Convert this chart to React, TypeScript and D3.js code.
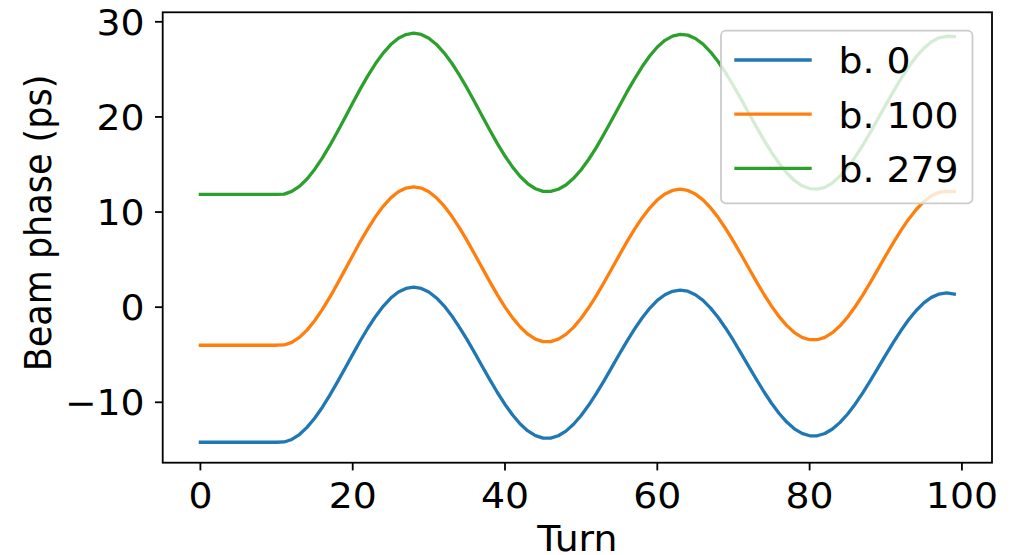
import { useEffect, useRef } from 'react';
import * as d3 from 'd3';

// beam phase per turn (ps), turns 0..99
const turns = d3.range(100);

const bunch0 = [
  -14.2, -14.2, -14.2, -14.2, -14.2, -14.2, -14.2, -14.2, -14.2, -14.2, -14.2,
  -14.17, -13.91, -13.39, -12.64, -11.68, -10.54, -9.25, -7.86, -6.42, -4.96, -3.53, -2.19, -0.97, 0.09, 0.96, 1.59, 1.97,
  2.1,
  1.97, 1.59, 0.97, 0.14, -0.89, -2.09, -3.39, -4.78, -6.21, -7.62, -8.97, -10.23, -11.34, -12.28, -13.01, -13.51, -13.77,
  -13.77, -13.52, -13.03, -12.31, -11.39, -10.29, -9.07, -7.74, -6.35, -4.95, -3.59, -2.31, -1.14, -0.12, 0.71, 1.31, 1.67,
  1.8,
  1.68, 1.31, 0.71, -0.1, -1.09, -2.24, -3.5, -4.85, -6.22, -7.58, -8.89, -10.1, -11.18, -12.08, -12.79, -13.27, -13.52,
  -13.52, -13.28, -12.81, -12.11, -11.23, -10.17, -8.98, -7.7, -6.36, -5.02, -3.7, -2.46, -1.33, -0.35, 0.45, 1.03, 1.38,
  1.5, 1.38,
];

const bunch100 = [
  -4.0, -4.0, -4.0, -4.0, -4.0, -4.0, -4.0, -4.0, -4.0, -4.0, -4.0,
  -3.97, -3.7, -3.18, -2.41, -1.43, -0.26, 1.05, 2.47, 3.95, 5.44, 6.9, 8.26, 9.52, 10.6, 11.49, 12.13, 12.52,
  12.65,
  12.52, 12.13, 11.5, 10.64, 9.58, 8.36, 7.02, 5.59, 4.13, 2.69, 1.3, 0.01, -1.13, -2.09, -2.84, -3.36, -3.62,
  -3.62, -3.36, -2.86, -2.12, -1.17, -0.04, 1.22, 2.59, 4.01, 5.45, 6.86, 8.17, 9.38, 10.42, 11.28, 11.9, 12.27,
  12.4,
  12.27, 11.89, 11.28, 10.44, 9.42, 8.22, 6.92, 5.54, 4.12, 2.71, 1.36, 0.11, -1.0, -1.94, -2.67, -3.17, -3.42,
  -3.42, -3.17, -2.68, -1.96, -1.03, 0.07, 1.3, 2.63, 4.02, 5.43, 6.79, 8.08, 9.25, 10.27, 11.11, 11.71, 12.07,
  12.18, 12.15,
];

const bunch279 = [
  11.86, 11.86, 11.86, 11.86, 11.86, 11.86, 11.86, 11.86, 11.86, 11.86, 11.86,
  11.89, 12.17, 12.7, 13.48, 14.48, 15.67, 17.0, 18.45, 19.95, 21.47, 22.95, 24.34, 25.61, 26.71, 27.61, 28.27, 28.66,
  28.8,
  28.67, 28.27, 27.62, 26.74, 25.67, 24.41, 23.05, 21.59, 20.1, 18.62, 17.2, 15.89, 14.72, 13.74, 12.97, 12.45, 12.18,
  12.18, 12.4, 12.85, 13.55, 14.45, 15.55, 16.8, 18.2, 19.65, 21.13, 22.6, 23.98, 25.27, 26.4, 27.35, 28.05, 28.5,
  28.67,
  28.6, 28.25, 27.65, 26.82, 25.8, 24.6, 23.28, 21.87, 20.42, 18.97, 17.57, 16.27, 15.1, 14.1, 13.32, 12.76, 12.47,
  12.41, 12.6, 13.07, 13.78, 14.7, 15.8, 17.05, 18.4, 19.83, 21.27, 22.68, 24.02, 25.25, 26.33, 27.22, 27.9, 28.32,
  28.48, 28.45,
];

const seriesNames = ['b. 0', 'b. 100', 'b. 279'];
const seriesValues = [bunch0, bunch100, bunch279];
const colors = ['#1f77b4', '#ff7f0e', '#2ca02c'];

const xTicks = [0, 20, 40, 60, 80, 100];
const yTicks = [-10, 0, 10, 20, 30];

const WIDTH = 1020;
const HEIGHT = 555;
const FONT = '"DejaVu Sans", sans-serif';
const FS = '35px';
const SX = 1.08; // picture is a little wider than tall

export default function App() {
  const svgRef = useRef<SVGSVGElement>(null);

  useEffect(() => {
    if (!svgRef.current) return;
    const svg = d3.select(svgRef.current);
    svg.selectAll('*').remove();

    const plot = { left: 162.7, right: 992, top: 12.3, bottom: 462.7 };

    const x = d3.scaleLinear().domain([-4.95, 103.95]).range([plot.left, plot.right]);
    const y = d3.scaleLinear().domain([-16.35, 31.0]).range([plot.bottom, plot.top]);

    const label = (g, px, py, txt, anchor = 'start') =>
      g.append('text')
        .attr('transform', `translate(${px}, ${py}) scale(${SX}, 1)`)
        .attr('text-anchor', anchor)
        .style('font-family', FONT)
        .style('font-size', FS)
        .text(txt);

    svg.append('rect')
      .attr('width', WIDTH)
      .attr('height', HEIGHT)
      .attr('fill', 'white');

    // lines
    const line = d3.line<number>()
      .x((_, i) => x(turns[i]))
      .y(d => y(d));

    seriesValues.forEach((vals, i) => {
      svg.append('path')
        .datum(vals)
        .attr('fill', 'none')
        .attr('stroke', colors[i])
        .attr('stroke-width', 3.3)
        .attr('stroke-linejoin', 'round')
        .attr('stroke-linecap', 'square')
        .attr('d', line);
    });

    // frame
    svg.append('rect')
      .attr('x', plot.left)
      .attr('y', plot.top)
      .attr('width', plot.right - plot.left)
      .attr('height', plot.bottom - plot.top)
      .attr('fill', 'none')
      .attr('stroke', 'black')
      .attr('stroke-width', 1.8);

    // x axis
    const xa = svg.append('g');
    xTicks.forEach(t => {
      xa.append('line')
        .attr('x1', x(t)).attr('x2', x(t))
        .attr('y1', plot.bottom).attr('y2', plot.bottom + 7.7)
        .attr('stroke', 'black')
        .attr('stroke-width', 1.8);
      label(xa, x(t), 508.3, d3.format('d')(t), 'middle');
    });

    // y axis
    const ya = svg.append('g');
    yTicks.forEach(t => {
      ya.append('line')
        .attr('x1', plot.left - 7.7).attr('x2', plot.left)
        .attr('y1', y(t)).attr('y2', y(t))
        .attr('stroke', 'black')
        .attr('stroke-width', 1.8);
      label(ya, 144.5, y(t) + 12.8, d3.format('d')(t), 'end');
    });

    // axis labels
    label(svg, (plot.left + plot.right) / 2, 551, 'Turn', 'middle');

    svg.append('text')
      .attr('transform', `translate(50.5, 223) scale(${SX}, 1) rotate(-90)`)
      .attr('text-anchor', 'middle')
      .style('font-family', FONT)
      .style('font-size', FS)
      .text('Beam phase (ps)');

    // legend
    const lg = svg.append('g');
    lg.append('rect')
      .attr('x', 721)
      .attr('y', 30.7)
      .attr('width', 251.5)
      .attr('height', 172.6)
      .attr('rx', 5)
      .attr('fill', 'white')
      .attr('fill-opacity', 0.8)
      .attr('stroke', '#cccccc')
      .attr('stroke-width', 1.8);

    seriesNames.forEach((name, i) => {
      const ly = 60 + i * 54.2;
      lg.append('line')
        .attr('x1', 734.3).attr('x2', 811.7)
        .attr('y1', ly).attr('y2', ly)
        .attr('stroke', colors[i])
        .attr('stroke-width', 3.3);
      label(lg, 838.5, ly + 13.3, name);
    });
  }, []);

  return (
    <svg
      ref={svgRef}
      width={WIDTH}
      height={HEIGHT}
      style={{ position: 'absolute', left: 0, top: 0, display: 'block' }}
    />
  );
}
